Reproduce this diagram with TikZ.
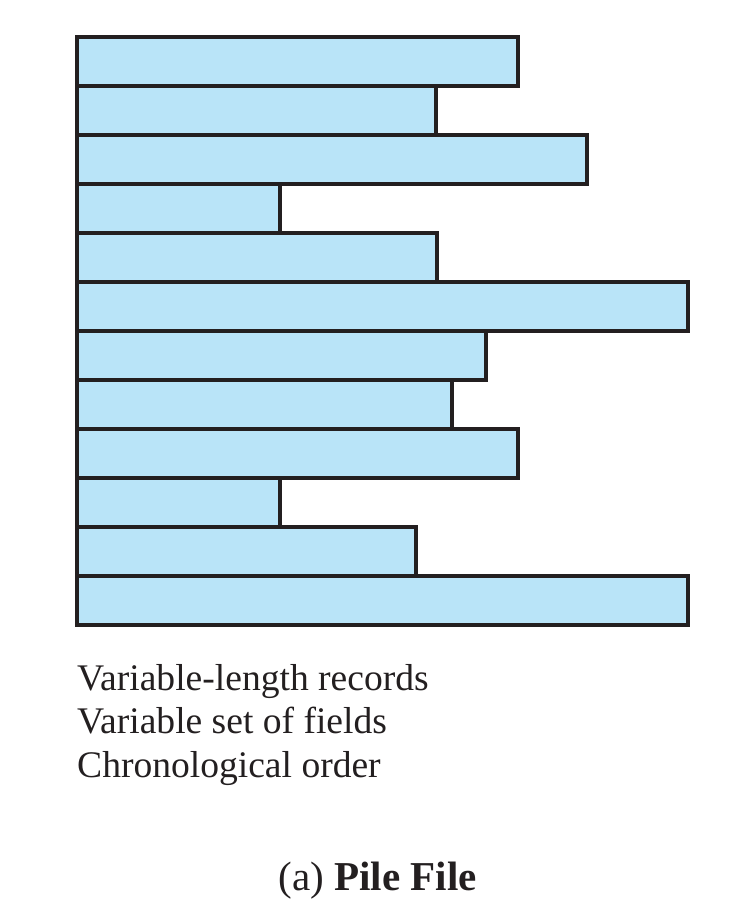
\documentclass[tikz,border=0pt]{standalone}
\usepackage{fontspec}
\setmainfont{Liberation Serif}
\usetikzlibrary{positioning}
\definecolor{recblue}{HTML}{B9E4F8}
\definecolor{recline}{HTML}{231F20}
\tikzset{
  record/.style={draw=recline, fill=recblue, line width=3.6bp, inner sep=0pt,
    outer sep=0pt, minimum height=49bp, anchor=north west},
  caption/.style={anchor=base west, inner sep=0pt, text=recline,
    font=\fontsize{37.7}{44}\selectfont},
  title/.style={anchor=base, inner sep=0pt, text=recline,
    font=\fontsize{41.2}{48}\selectfont}
}

\begin{document}
\begin{tikzpicture}[x=1bp,y=-1bp]
    \useasboundingbox (0,0) rectangle (750,910);

    % Records of the pile, one after another
    \foreach \i/\w in {1/441,2/359,3/510,4/203,5/360,6/611,7/409,8/375,9/441,10/203,11/339,12/611}
        \node[record, minimum width=\w bp] (rec\i) at (77,{37+(\i-1)*49}) {};

    % Properties
    \node[caption] (varlen) at (77,690) {Variable-length records};
    \node[caption] (varset) at (77,733.5) {Variable set of fields};
    \node[caption] (chrono) at (77,777) {Chronological order};

    % Caption
    \node[title] (pile) at (377.5,890) {(a) \textbf{Pile File}};
\end{tikzpicture}
\end{document}
